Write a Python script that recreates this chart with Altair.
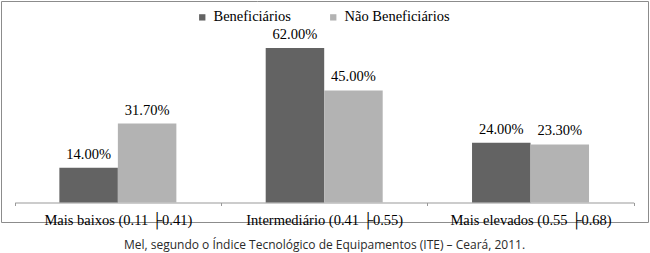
import altair as alt
import pandas as pd

categories = [
    "Mais baixos (0.11 ├0.41)",
    "Intermediário (0.41 ├0.55)",
    "Mais elevados (0.55 ├0.68)",
]
series = ["Beneficiários", "Não Beneficiários"]
beneficiarios = [14.00, 62.00, 24.00]
nao_beneficiarios = [31.70, 45.00, 23.30]
colors = ["#636363", "#b3b3b3"]
caption = "Mel, segundo o Índice Tecnológico de Equipamentos (ITE) – Ceará, 2011."

rows = []
for c, b, n in zip(categories, beneficiarios, nao_beneficiarios):
    rows.append({"cat": c, "serie": series[0], "valor": b})
    rows.append({"cat": c, "serie": series[1], "valor": n})
df = pd.DataFrame(rows)

SERIF = "Liberation Serif"

x = alt.X(
    "cat:N",
    sort=categories,
    title=None,
    scale=alt.Scale(paddingInner=0, paddingOuter=0, range=[13.7, 632.7]),
    axis=alt.Axis(
        labelAngle=0,
        offset=-19.5,
        tickBand="extent",
        tickSize=3,
        tickColor="#999999",
        domainColor="#999999",
        labelFont=SERIF,
        labelFontSize=14.5,
        labelColor="#000000",
        labelPadding=8,
        grid=False,
    ),
)
xo = alt.XOffset(
    "serie:N",
    sort=series,
    scale=alt.Scale(paddingInner=0, paddingOuter=0.7635),
)
y = alt.Y(
    "valor:Q",
    scale=alt.Scale(domain=[0, 70], range=[201.5, 27.2], nice=False, zero=True),
    axis=None,
)

base = alt.Chart(df)

bars = base.mark_bar().encode(
    x=x,
    xOffset=xo,
    y=y,
    color=alt.Color(
        "serie:N",
        sort=series,
        scale=alt.Scale(domain=series, range=colors),
        legend=alt.Legend(
            title=None,
            orient="none",
            legendX=194,
            legendY=9,
            direction="horizontal",
            symbolType="square",
            symbolSize=40,
            symbolStrokeWidth=0,
            labelFont=SERIF,
            labelFontSize=14.5,
            labelColor="#000000",
            labelOffset=4,
            columnPadding=35,
            padding=0,
        ),
    ),
)

labels = base.transform_calculate(
    label="format(datum.valor, '.2f') + '%'"
).mark_text(
    baseline="alphabetic", dy=-9, font=SERIF, fontSize=14.5, color="#000000"
).encode(x=x, xOffset=xo, y=y, text="label:N")

chart = (
    alt.layer(bars, labels)
    .properties(
        width=647,
        height=221,
        autosize=alt.AutoSizeParams(type="none"),
        padding={"left": 1, "top": 1, "right": 2, "bottom": 31},
        title=alt.TitleParams(
            text=caption,
            orient="bottom",
            anchor="middle",
            font="Open Sans",
            fontSize=12,
            fontWeight="normal",
            color="#2a2a2a",
            offset=13,
        ),
        background="#ffffff",
    )
    .configure_view(stroke="#8c8c8c", strokeWidth=1)
)

chart.save("out.html", embed_options={"renderer": "svg", "actions": False})
